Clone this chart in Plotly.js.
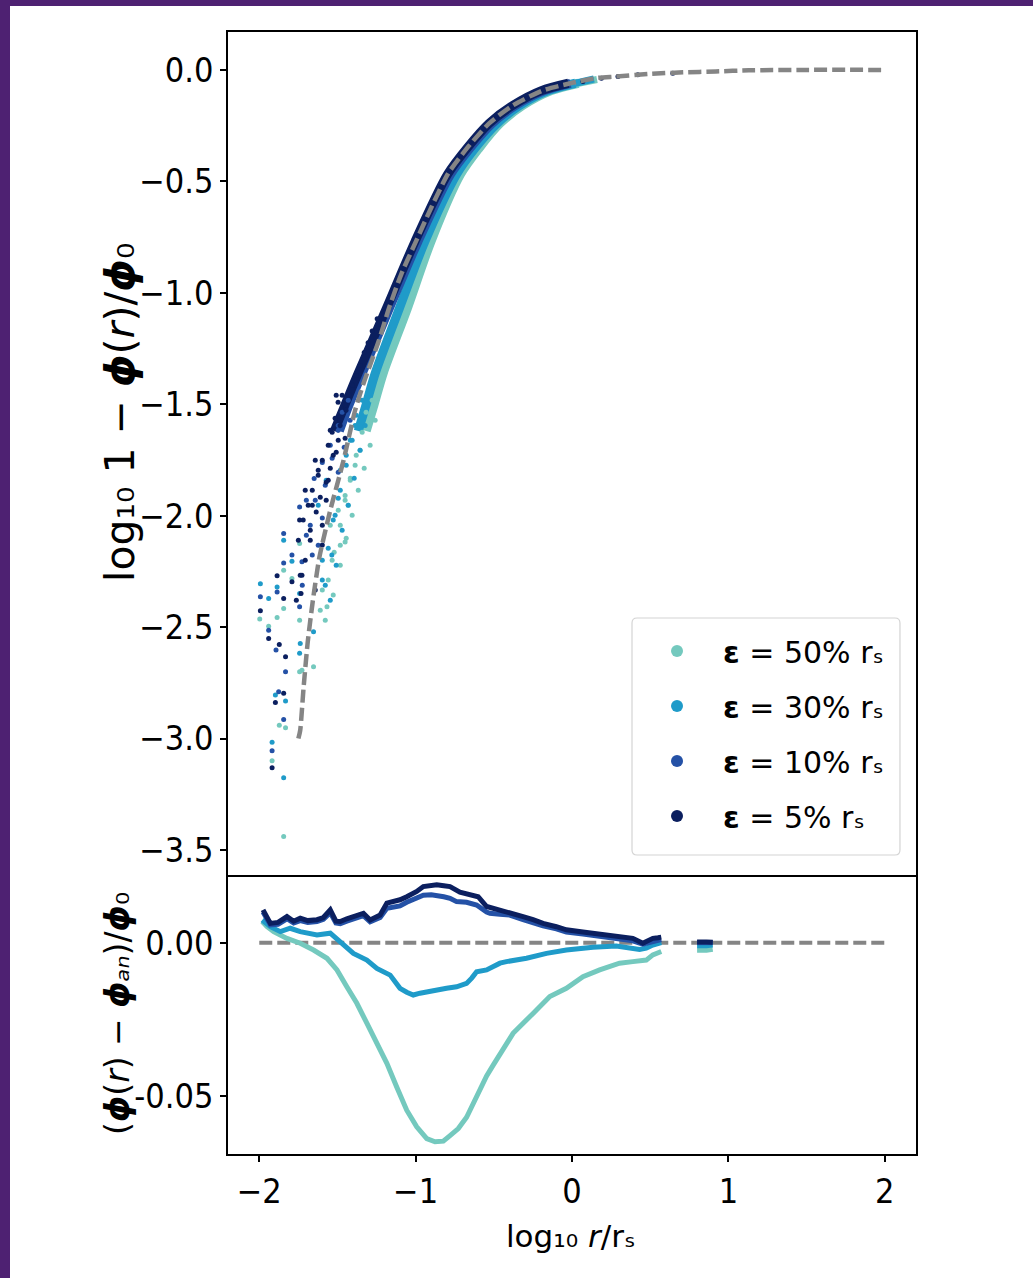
<!DOCTYPE html>
<html>
<head>
<meta charset="utf-8">
<script src="https://cdn.plot.ly/plotly-3.0.1.min.js"></script>
<style>
  html, body { margin: 0; padding: 0; background: #4e2172; }
  #page { width: 1023px; height: 1272px; padding: 6px 0 0 10px; }
  #chart { width: 1023px; height: 1272px; background: #ffffff; }
</style>
</head>
<body>
<div id="page"><div id="chart"></div></div>
<script>
// ---- series labels and colours ----
const seriesNames = ['<b>ε</b> = 50% rₛ', '<b>ε</b> = 30% rₛ', '<b>ε</b> = 10% rₛ', '<b>ε</b> = 5% rₛ'];
const seriesColors = ['#74c9be', '#1f9bc9', '#2451a6', '#0b1f5f'];

// ---- analytic profile: log10 1 - phi(r)/phi0 ----
const anX = [-1.75, -1.738, -1.717, -1.691, -1.657, -1.615, -1.546, -1.461, -1.387, -1.334, -1.235, -1.168, -1.091,
             -0.995, -0.899, -0.793, -0.67, -0.53, -0.38, -0.19, -0.01, 0.15, 0.28, 0.50, 0.71, 0.92, 1.13, 1.5, 2.0];
const anY = [-3.0, -2.962, -2.775, -2.573, -2.379, -2.185, -1.976, -1.752, -1.527, -1.408, -1.214, -1.064, -0.915,
             -0.765, -0.616, -0.466, -0.35, -0.24, -0.16, -0.093, -0.06, -0.037, -0.030, -0.018, -0.011, -0.007, -0.002, 0.0, 0.0];

// ---- simulated profiles, dense part (upper panel) ----
const bandY   = [-1.62, -1.50, -1.36, -1.07, -0.77, -0.47, -0.35, -0.24, -0.16, -0.093, -0.06];
const band50X = [-1.316, -1.265, -1.207, -1.053, -0.902, -0.714, -0.593, -0.460, -0.316, -0.133, 0.041];
const band30X = [-1.367, -1.316, -1.258, -1.104, -0.941, -0.740, -0.619, -0.479, -0.335, -0.152, 0.022];
const band10X = [-1.488, -1.424, -1.341, -1.168, -0.985, -0.778, -0.651, -0.511, -0.361, -0.177, -0.010];
const band05X = [-1.520, -1.450, -1.367, -1.187, -1.004, -0.797, -0.670, -0.530, -0.380, -0.196, -0.023];
const tail50X = [0.041, 0.16];  const tail50Y = [-0.06, -0.043];
const tail30X = [0.022, 0.14];  const tail30Y = [-0.06, -0.041];

// ---- simulated profiles, scattered particles (upper panel) ----
const pts50X = [-1.997, -1.940, -1.886, -1.844, -1.844, -1.872, -1.832, -1.918, -1.844, -1.791, -1.742, -1.742, -1.742,
                -1.727, -1.653, -1.567, -1.578, -1.451, -1.546, -1.495, -1.451, -1.418, -1.387, -1.482, -1.534, -1.356,
                -1.431, -1.597,
                -1.278, -1.317, -1.259, -1.342, -1.291, -1.380, -1.329, -1.418, -1.367, -1.451, -1.406, -1.482, -1.444,
                -1.521, -1.482, -1.559, -1.527, -1.610];
const pts50Y = [-2.464, -2.496, -2.457, -2.245, -2.416, -2.940, -2.952, -3.100, -3.440, -2.282, -2.125, -2.469, -2.700,
                -2.693, -2.678, -2.409, -2.469, -2.118, -2.043, -1.976, -1.909, -1.841, -1.774, -2.133, -2.200, -1.707,
                -1.953, -2.334,
                -1.482, -1.536, -1.572, -1.626, -1.684, -1.729, -1.787, -1.832, -1.886, -1.931, -1.998, -2.043, -2.101,
                -2.164, -2.222, -2.289, -2.356, -2.424];
const pts30X = [-1.993, -1.940, -1.886, -1.844, -1.897, -1.832, -1.918, -1.844, -1.791, -1.742, -1.742, -1.738, -1.653,
                -1.578, -1.536, -1.623, -1.572, -1.527, -1.482, -1.444, -1.495, -1.597, -1.418, -1.387,
                -1.342, -1.380, -1.323, -1.406, -1.355, -1.444, -1.393, -1.482, -1.431, -1.515, -1.470, -1.559, -1.508,
                -1.597, -1.546];
const pts30Y = [-2.306, -2.372, -2.320, -2.110, -2.805, -2.831, -3.017, -3.176, -2.204, -2.349, -2.617, -2.574, -2.521,
                -2.312, -2.177, -1.953, -1.841, -2.020, -1.796, -1.729, -1.922, -2.200, -1.662, -1.595,
                -1.482, -1.549, -1.595, -1.662, -1.707, -1.774, -1.832, -1.886, -1.953, -1.998, -2.065, -2.146, -2.222,
                -2.289, -2.379];
const pts10X = [-1.993, -1.940, -1.886, -1.893, -1.844, -1.844, -1.832, -1.876, -1.844, -1.918, -1.791, -1.742, -1.742,
                -1.727, -1.699, -1.649, -1.597, -1.546, -1.495, -1.674, -1.623,
                -1.431, -1.470, -1.419, -1.495, -1.457, -1.534, -1.495, -1.578, -1.642, -1.597, -1.699, -1.661, -1.725];
const pts10Y = [-2.364, -2.514, -2.343, -2.603, -2.080, -2.212, -2.700, -2.790, -2.914, -3.055, -2.177, -1.961, -2.409,
                -2.207, -1.931, -1.833, -1.761, -1.684, -1.595, -2.043, -2.133,
                -1.482, -1.536, -1.572, -1.617, -1.693, -1.742, -1.805, -1.864, -1.931, -2.011, -2.088, -2.177, -2.312];
const pts05X = [-1.993, -1.940, -1.886, -1.872, -1.844, -1.832, -1.897, -1.844, -1.918, -1.791, -1.742, -1.727, -1.733,
                -1.706, -1.661, -1.623, -1.597, -1.559, -1.527, -1.674, -1.495, -1.572, -1.642, -1.482, -1.546, -1.451,
                -1.508,
                -1.470, -1.496, -1.445, -1.515, -1.483, -1.534, -1.451, -1.559, -1.508, -1.597, -1.546, -1.623, -1.572,
                -1.661, -1.610, -1.687, -1.636, -1.719, -1.674, -1.750, -1.597, -1.706, -1.738, -1.642, -1.763,
                -1.406, -1.380, -1.355, -1.329, -1.304, -1.278, -1.246, -1.425,
                -0.042, 0.070, 0.188, 0.294, 0.421, 0.645];
const pts05Y = [-2.427, -2.551, -2.270, -2.578, -2.372, -2.633, -2.838, -2.797, -3.131, -2.297, -2.020, -2.267, -2.349,
                -1.886, -1.953, -1.796, -2.043, -1.841, -1.729, -2.110, -1.662, -1.931, -1.751, -1.572, -1.617, -1.505,
                -1.460,
                -1.460, -1.491, -1.527, -1.563, -1.595, -1.626, -1.653, -1.684, -1.716, -1.751, -1.787, -1.819, -1.850,
                -1.886, -1.917, -1.953, -1.984, -2.020, -2.065, -2.110, -2.132, -2.200, -2.267, -2.334, -2.379,
                -1.415, -1.371, -1.326, -1.268, -1.224, -1.171, -1.117, -1.460,
                -0.070, -0.052, -0.038, -0.030, -0.022, -0.015];

// ---- residuals (phi(r) - phi_an)/phi0 (lower panel); null separates the outer shell ----
const res50X = [-1.981, -1.95, -1.908, -1.823, -1.738, -1.653, -1.567, -1.503, -1.440, -1.376, -1.312, -1.248, -1.184,
                -1.121, -1.057, -0.993, -0.929, -0.876, -0.823, -0.780, -0.727, -0.674, -0.610, -0.546, -0.504, -0.461,
                -0.377, -0.249, -0.142, -0.036, 0.070, 0.177, 0.304, 0.389, 0.475, 0.517, 0.571, null, 0.80, 0.83, 0.86, 0.90];
const res50Y = [0.0069, 0.0052, 0.0036, 0.0014, -0.0002, -0.0024, -0.0051, -0.0089, -0.0144, -0.0198, -0.0263, -0.0329,
                -0.0394, -0.0471, -0.0547, -0.0601, -0.0640, -0.0650, -0.0648, -0.0630, -0.0607, -0.0570, -0.0500, -0.0435,
                -0.0400, -0.0365, -0.0296, -0.0231, -0.0176, -0.0149, -0.0111, -0.0089, -0.0067, -0.0062, -0.0057, -0.0040,
                -0.0029, null, -0.0025, -0.0027, -0.0025, -0.0022];
const res30X = [-1.981, -1.95, -1.929, -1.865, -1.802, -1.738, -1.69, -1.631, -1.546, -1.51, -1.482, -1.44, -1.398,
                -1.312, -1.248, -1.163, -1.100, -1.057, -1.015, -0.972, -0.929, -0.887, -0.802, -0.738, -0.674, -0.640,
                -0.610, -0.546, -0.461, -0.419, -0.291, -0.163, -0.036, 0.134, 0.283, 0.432, 0.475, 0.517, 0.571, null,
                0.80, 0.83, 0.86, 0.90];
const res30Y = [0.0074, 0.0060, 0.0052, 0.0036, 0.0047, 0.0036, 0.0030, 0.0025, 0.0031, 0.0015, -0.0002, -0.0020, -0.0035,
                -0.0057, -0.0084, -0.0106, -0.0149, -0.0162, -0.0171, -0.0165, -0.0160, -0.0155, -0.0149, -0.0144, -0.0133,
                -0.0115, -0.0095, -0.0089, -0.0067, -0.0062, -0.0051, -0.0035, -0.0024, -0.0015, -0.0011, -0.0022, -0.0018,
                -0.0008, 0.0000, null, -0.0010, -0.0012, -0.0010, -0.0008];
const res10X = [-1.976, -1.95, -1.929, -1.88, -1.823, -1.78, -1.738, -1.69, -1.631, -1.59, -1.546, -1.51, -1.482, -1.44,
                -1.398, -1.334, -1.291, -1.227, -1.184, -1.142, -1.100, -1.057, -0.993, -0.951, -0.90, -0.865, -0.82, -0.780,
                -0.738, -0.674, -0.610, -0.546, -0.525, -0.461, -0.398, -0.313, -0.249, -0.185, -0.10, -0.036, 0.07, 0.134,
                0.220, 0.304, 0.389, 0.453, 0.50, 0.517, 0.55, 0.571, null, 0.80, 0.83, 0.86, 0.90];
const res10Y = [0.0100, 0.0075, 0.0058, 0.0060, 0.0078, 0.0064, 0.0072, 0.0066, 0.0069, 0.0076, 0.0098, 0.0064, 0.0062,
                0.0070, 0.0078, 0.0088, 0.0068, 0.0082, 0.0112, 0.0116, 0.0120, 0.0132, 0.0146, 0.0155, 0.0156, 0.0155,
                0.0150, 0.0145, 0.0134, 0.0132, 0.0123, 0.0100, 0.0096, 0.0093, 0.0090, 0.0075, 0.0063, 0.0055, 0.0045,
                0.0035, 0.0028, 0.0024, 0.0016, 0.0012, 0.0006, -0.0005, 0.0000, 0.0005, 0.0008, 0.0010, null,
                0.0000, 0.0000, 0.0000, 0.0000];
const res05X = [-1.976, -1.95, -1.929, -1.88, -1.823, -1.78, -1.738, -1.69, -1.631, -1.59, -1.546, -1.51, -1.482, -1.44,
                -1.398, -1.334, -1.291, -1.227, -1.184, -1.142, -1.100, -1.057, -0.993, -0.951, -0.90, -0.865, -0.82, -0.780,
                -0.717, -0.632, -0.60, -0.546, -0.50, -0.461, -0.398, -0.313, -0.249, -0.185, -0.10, -0.036, 0.07, 0.134,
                0.220, 0.304, 0.389, 0.453, 0.50, 0.517, 0.55, 0.571, null, 0.80, 0.83, 0.86, 0.90];
const res05Y = [0.0107, 0.0080, 0.0063, 0.0066, 0.0085, 0.0070, 0.0080, 0.0072, 0.0075, 0.0082, 0.0107, 0.0070, 0.0069,
                0.0078, 0.0085, 0.0096, 0.0074, 0.0090, 0.0129, 0.0134, 0.0140, 0.0150, 0.0167, 0.0183, 0.0188, 0.0189,
                0.0186, 0.0183, 0.0165, 0.0156, 0.0150, 0.0118, 0.0112, 0.0107, 0.0100, 0.0085, 0.0075, 0.0063, 0.0052,
                0.0042, 0.0035, 0.0031, 0.0025, 0.0020, 0.0014, -0.0002, 0.0008, 0.0014, 0.0016, 0.0018, null,
                0.0002, 0.0003, 0.0002, 0.0001];
const zeroX = [-2, 2];
const zeroY = [0, 0];

// ---- axis ticks ----
const xTickVals = [-2, -1, 0, 1, 2];
const xTickText = ['−2', '−1', '0', '1', '2'];
const topTickVals = [0, -0.5, -1, -1.5, -2, -2.5, -3, -3.5];
const topTickText = ['0.0', '−0.5', '−1.0', '−1.5', '−2.0', '−2.5', '−3.0', '−3.5'];
const botTickVals = [0, -0.05];
const botTickText = ['0.00', '-0.05'];

const FONT = 'DejaVu Sans, Liberation Sans, sans-serif';
const TICKFONT = 'DejaVu Sans Condensed, DejaVu Sans, sans-serif';
const GREY = '#858585';
const DASH = '13px,5px';

const bandX = [band50X, band30X, band10X, band05X];
const ptsX = [pts50X, pts30X, pts10X, pts05X];
const ptsY = [pts50Y, pts30Y, pts10Y, pts05Y];
const resX = [res50X, res30X, res10X, res05X];
const resY = [res50Y, res30Y, res10Y, res05Y];

const traces = [];
// dense bands of the upper panel
for (let i = 0; i < 4; i++) {
  traces.push({x: bandX[i], y: bandY, xaxis: 'x2', yaxis: 'y2', mode: 'lines', showlegend: false,
               line: {color: seriesColors[i], width: 9, shape: 'spline', smoothing: 0.8}, hoverinfo: 'skip'});
}
traces.push({x: tail50X, y: tail50Y, xaxis: 'x2', yaxis: 'y2', mode: 'lines', showlegend: false,
             line: {color: seriesColors[0], width: 7}, hoverinfo: 'skip'});
traces.push({x: tail30X, y: tail30Y, xaxis: 'x2', yaxis: 'y2', mode: 'lines', showlegend: false,
             line: {color: seriesColors[1], width: 7}, hoverinfo: 'skip'});
// scattered particles, also carrying the legend entries
for (let i = 0; i < 4; i++) {
  traces.push({x: ptsX[i], y: ptsY[i], xaxis: 'x2', yaxis: 'y2', mode: 'markers', name: seriesNames[i],
               legendgroup: 'g' + i, marker: {color: seriesColors[i], size: 5, symbol: 'circle'}});
}
// analytic curve
traces.push({x: anX, y: anY, xaxis: 'x2', yaxis: 'y2', mode: 'lines', showlegend: false,
             line: {color: GREY, width: 4.5, dash: DASH, shape: 'spline', smoothing: 0.6}});
// residual panel
traces.push({x: zeroX, y: zeroY, xaxis: 'x', yaxis: 'y', mode: 'lines', showlegend: false,
             line: {color: GREY, width: 4, dash: DASH}});
for (let i = 0; i < 4; i++) {
  traces.push({x: resX[i], y: resY[i], xaxis: 'x', yaxis: 'y', mode: 'lines', showlegend: false,
               connectgaps: false, line: {color: seriesColors[i], width: 5}});
}

const axisCommon = {showline: true, mirror: true, linecolor: '#000', linewidth: 1.6, showgrid: false,
                    zeroline: false, ticks: 'outside', ticklen: 6, tickwidth: 1.5, tickcolor: '#000',
                    tickfont: {family: TICKFONT, size: 34, color: '#000'}};
const split = 0.2487;

// rounded frame behind the legend (paper coordinates)
const fx0 = 0.5872, fx1 = 0.9767, fyT = 0.4777, fyB = 0.2665, rx = 0.0073, ry = 0.0045;
const framePath = `M ${fx0 + rx},${fyT} L ${fx1 - rx},${fyT} Q ${fx1},${fyT} ${fx1},${fyT - ry} ` +
                  `L ${fx1},${fyB + ry} Q ${fx1},${fyB} ${fx1 - rx},${fyB} L ${fx0 + rx},${fyB} ` +
                  `Q ${fx0},${fyB} ${fx0},${fyB + ry} L ${fx0},${fyT - ry} Q ${fx0},${fyT} ${fx0 + rx},${fyT} Z`;

const layout = {
  width: 1023, height: 1272,
  margin: {l: 218, r: 117, t: 26, b: 124, autoexpand: false},
  paper_bgcolor: '#ffffff', plot_bgcolor: '#ffffff',
  font: {family: FONT, size: 30, color: '#000'},
  showlegend: true,
  legend: {x: 0.5858, xanchor: 'left', y: 0.4715, yanchor: 'top', bgcolor: 'rgba(0,0,0,0)',
           borderwidth: 0, font: {family: FONT, size: 30, color: '#000'},
           itemsizing: 'constant', traceorder: 'grouped', tracegroupgap: 13, itemwidth: 82},
  shapes: [
    {type: 'path', xref: 'paper', yref: 'paper', path: framePath, layer: 'above',
     fillcolor: '#ffffff', line: {color: '#d4d4d4', width: 1.2}}
  ],
  xaxis: Object.assign({}, axisCommon, {domain: [0, 1], anchor: 'y', range: [-2.2, 2.2], mirror: false,
           tickmode: 'array', tickvals: xTickVals, ticktext: xTickText}),
  xaxis2: Object.assign({}, axisCommon, {domain: [0, 1], anchor: 'y2', matches: 'x', range: [-2.2, 2.2],
           showticklabels: false, ticks: ''}),
  yaxis: Object.assign({}, axisCommon, {domain: [0, split], anchor: 'x', range: [-0.0690, 0.0221],
           tickmode: 'array', tickvals: botTickVals, ticktext: botTickText}),
  yaxis2: Object.assign({}, axisCommon, {domain: [split, 1], anchor: 'x2', range: [-3.612, 0.170],
           tickmode: 'array', tickvals: topTickVals, ticktext: topTickText}),
  annotations: [
    {text: 'log₁₀ 1 − <b><i>ϕ</i></b>(<i>r</i>)/<b><i>ϕ</i></b>₀', xref: 'paper', yref: 'paper',
     x: -0.157, y: 0.6613, xanchor: 'center', yanchor: 'middle', textangle: -90, showarrow: false,
     font: {family: FONT, size: 41, color: '#000'}},
    {text: '(<b><i>ϕ</i></b>(<i>r</i>) − <b><i>ϕ</i></b><i>ₐₙ</i>)/<b><i>ϕ</i></b>₀', xref: 'paper', yref: 'paper',
     x: -0.160, y: 0.1257, xanchor: 'center', yanchor: 'middle', textangle: -90, showarrow: false,
     font: {family: FONT, size: 33, color: '#000'}},
    {text: 'log₁₀ <i>r</i>/rₛ', xref: 'paper', yref: 'paper',
     x: 0.4985, y: -0.0731, xanchor: 'center', yanchor: 'middle', showarrow: false,
     font: {family: FONT, size: 31, color: '#000'}}
  ]
};

Plotly.newPlot('chart', traces, layout, {displayModeBar: false});
</script>
</body>
</html>
